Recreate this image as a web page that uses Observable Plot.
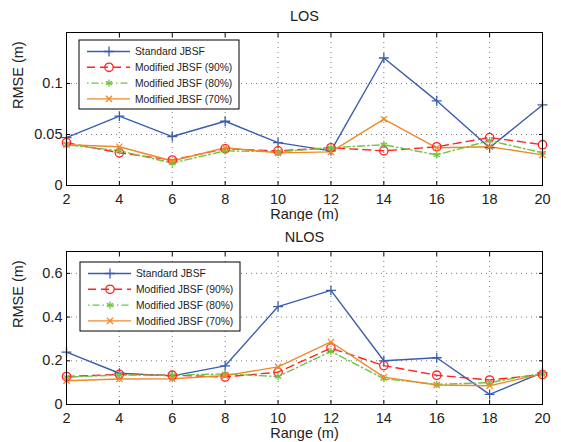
<!DOCTYPE html>
<html>
<head>
<meta charset="utf-8">
<script src="https://cdn.jsdelivr.net/npm/d3@7"></script>
<script src="https://cdn.jsdelivr.net/npm/@observablehq/plot@0.6"></script>
<style>
  html, body { margin: 0; padding: 0; background: #fff; }
  .panel { position: relative; width: 561px; height: 221px; }
  .panel svg { display: block; }
  .legend { position: absolute; }
</style>
</head>
<body>
<div id="top" class="panel"></div>
<div id="bottom" class="panel"></div>
<script>
// ---- data ----
const ranges = [2, 4, 6, 8, 10, 12, 14, 16, 18, 20];
const seriesNames = ["Standard JBSF", "Modified JBSF (90%)", "Modified JBSF (80%)", "Modified JBSF (70%)"];

const losStandard = [0.047, 0.068, 0.048, 0.063, 0.042, 0.034, 0.125, 0.083, 0.037, 0.079];
const los90       = [0.042, 0.032, 0.025, 0.036, 0.034, 0.037, 0.034, 0.038, 0.047, 0.040];
const los80       = [0.040, 0.034, 0.022, 0.034, 0.033, 0.037, 0.040, 0.030, 0.044, 0.032];
const los70       = [0.040, 0.038, 0.024, 0.037, 0.032, 0.033, 0.065, 0.037, 0.038, 0.030];

const nlosStandard = [0.240, 0.143, 0.131, 0.177, 0.448, 0.522, 0.200, 0.214, 0.046, 0.146];
const nlos90       = [0.128, 0.138, 0.134, 0.126, 0.148, 0.258, 0.178, 0.134, 0.112, 0.137];
const nlos80       = [0.125, 0.135, 0.134, 0.140, 0.128, 0.243, 0.118, 0.092, 0.100, 0.143];
const nlos70       = [0.109, 0.117, 0.118, 0.132, 0.172, 0.286, 0.125, 0.089, 0.086, 0.140];

const xTicks = [2, 4, 6, 8, 10, 12, 14, 16, 18, 20];
const losYTicks = [0, 0.05, 0.1];
const nlosYTicks = [0, 0.2, 0.4, 0.6];

// ---- styles ----
const styles = [
  {color: "#3a5db0", dash: null,           symbol: "plus",     r: 3.3, fill: "none"},
  {color: "#ff2424", dash: "8,5",          symbol: "circle",   r: 4.2, fill: "none"},
  {color: "#6cc644", dash: "1.5,3,7,3",    symbol: "asterisk", r: 3.4, fill: "none"},
  {color: "#ee8a2a", dash: null,           symbol: "times",    r: 2.9, fill: "none"}
];
const FONT = "'Liberation Sans', Arial, Helvetica, sans-serif";
const INK = "#222";

function toRows(arrays) {
  const rows = [];
  arrays.forEach((arr, s) => arr.forEach((v, i) => rows.push({series: s, x: ranges[i], y: v})));
  return rows;
}

function makePanel(el, title, ymax, yTicks, arrays, mTop, mBottom, legendPos) {
  const rows = toRows(arrays);
  const marks = [
    Plot.gridX(xTicks, {stroke: "#444", strokeOpacity: 0.9, strokeWidth: 0.8, strokeDasharray: "1,4"}),
    Plot.gridY(yTicks, {stroke: "#444", strokeOpacity: 0.9, strokeWidth: 0.8, strokeDasharray: "1,4"})
  ];
  styles.forEach((st, s) => {
    const d = rows.filter(r => r.series === s);
    marks.push(Plot.line(d, {x: "x", y: "y", stroke: st.color, strokeWidth: 1.4, strokeDasharray: st.dash}));
  });
  styles.forEach((st, s) => {
    const d = rows.filter(r => r.series === s);
    marks.push(Plot.dot(d, {x: "x", y: "y", symbol: () => st.symbol, stroke: st.color, fill: st.fill, r: st.r, strokeWidth: 1.3}));
  });
  marks.push(
    Plot.frame({stroke: "black", strokeWidth: 1}),
    Plot.axisX(xTicks, {anchor: "bottom", tickSize: -4, tickPadding: 12, label: null, fontSize: 14.5, fill: INK}),
    Plot.axisX(xTicks, {anchor: "top", tickSize: -4, tickFormat: () => "", label: null}),
    Plot.axisY(yTicks, {anchor: "left", tickSize: -4, tickPadding: 8, label: null, fontSize: 14.5, fill: INK, tickFormat: d => String(d)}),
    Plot.axisY(yTicks, {anchor: "right", tickSize: -4, tickFormat: () => "", label: null}),
    Plot.text([title], {frameAnchor: "top", dy: -(mTop - 16), fontSize: 14.5, lineAnchor: "middle", fill: INK}),
    Plot.text(["Range (m)"], {frameAnchor: "bottom", dy: 29, fontSize: 14.5, lineAnchor: "middle", fill: INK}),
    Plot.text(["RMSE (m)"], {frameAnchor: "left", dx: -48, rotate: -90, fontSize: 14.5, lineAnchor: "middle", fill: INK})
  );
  const chart = Plot.plot({
    width: 561, height: 221,
    marginTop: mTop, marginBottom: mBottom, marginLeft: 66, marginRight: 19,
    style: {fontFamily: FONT, fontSize: "14.5px", background: "white", color: "black", overflow: "visible"},
    x: {domain: [2, 20]},
    y: {domain: [0, ymax]},
    marks
  });
  el.appendChild(chart);

  // legend box
  const lw = 160, lh = 69;
  const leg = d3.select(el).append("svg")
    .attr("class", "legend")
    .attr("width", lw + 2).attr("height", lh + 2)
    .style("left", (legendPos[0] - 1) + "px").style("top", (legendPos[1] - 1) + "px");
  leg.append("rect").attr("x", 1).attr("y", 1).attr("width", lw).attr("height", lh)
    .attr("fill", "white").attr("stroke", "black").attr("stroke-width", 1);
  const symMap = {plus: d3.symbolPlus, circle: d3.symbolCircle, asterisk: d3.symbolAsterisk, times: d3.symbolTimes};
  styles.forEach((st, s) => {
    const yy = 1 + 11.5 + s * 15.8;
    const g = leg.append("g");
    g.append("line").attr("x1", 9).attr("x2", 52).attr("y1", yy).attr("y2", yy)
      .attr("stroke", st.color).attr("stroke-width", 1.4)
      .attr("stroke-dasharray", st.dash);
    g.append("path")
      .attr("transform", `translate(31,${yy})`)
      .attr("d", d3.symbol(symMap[st.symbol], Math.PI * st.r * st.r)())
      .attr("fill", "none").attr("stroke", st.color).attr("stroke-width", 1.3);
    g.append("text").attr("x", 57).attr("y", yy).attr("dy", "0.35em")
      .attr("font-family", FONT).attr("font-size", 10.3).attr("fill", INK)
      .text(seriesNames[s]);
  });
}

makePanel(document.getElementById("top"), "LOS", 0.15, losYTicks,
  [losStandard, los90, los80, los70], 32, 36, [79, 40]);
makePanel(document.getElementById("bottom"), "NLOS", 0.7, nlosYTicks,
  [nlosStandard, nlos90, nlos80, nlos70], 30, 38, [80, 41]);
</script>
</body>
</html>
